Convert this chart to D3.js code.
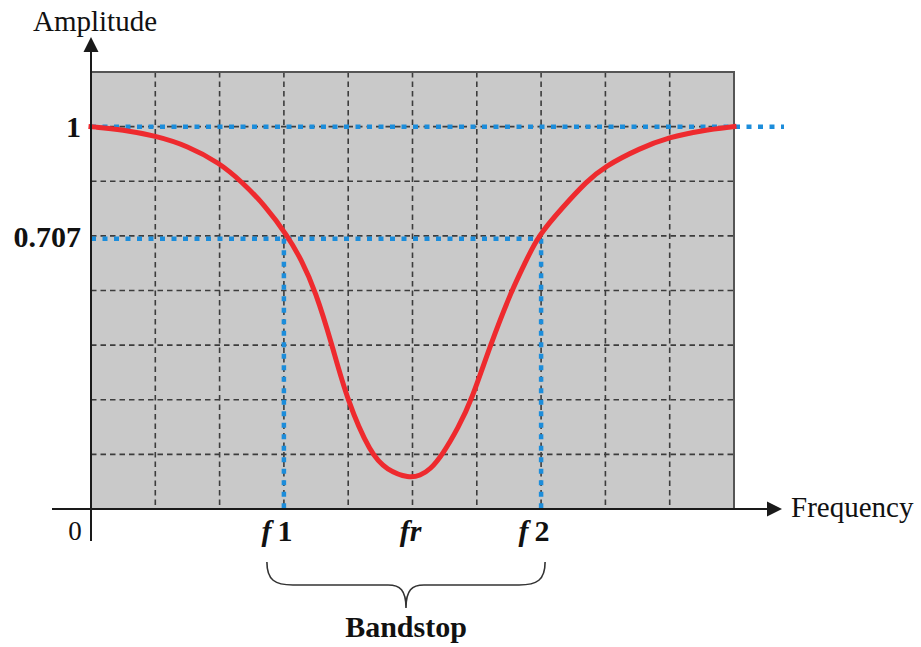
<!DOCTYPE html>
<html>
<head>
<meta charset="utf-8">
<script src="https://cdn.jsdelivr.net/npm/d3@7"></script>
<style>
  html, body { margin: 0; padding: 0; background: #fff; }
  svg { display: block; }
  text { font-family: "Liberation Serif", "Times New Roman", serif; fill: #111; }
</style>
</head>
<body>
<svg id="chart" width="921" height="647"></svg>
<script>
// Band-stop filter response, frequency in grid units (0..10)
const freq      = [0, 0.5, 1, 1.5, 2, 2.35, 2.7, 3.06, 3.27, 3.49, 3.75, 3.98, 4.35, 4.6, 4.95,
                   5.12, 5.27, 5.47, 5.71, 5.92, 6.21, 6.54, 6.75, 6.95, 7.34, 7.71, 7.98, 8.54, 8.99, 9.5, 10];
const amplitude = [1.0, 0.992, 0.976, 0.95, 0.905, 0.855, 0.795, 0.714, 0.652, 0.571, 0.429, 0.286, 0.143, 0.102, 0.08,
                   0.088, 0.102, 0.143, 0.212, 0.285, 0.429, 0.571, 0.643, 0.714, 0.79, 0.857, 0.895, 0.944, 0.972, 0.99, 1.0];

// Marked frequencies and their labels
const markFreqs  = [3, 5, 7];
const markLabels = [["f", "1"], ["fr", ""], ["f", "2"]];
const cutoffFreqs = [3, 7];
const cutoffLevel = 0.707;
const yTickValues = [1, 0.707];
const yTickLabels = ["1", "0.707"];
const xColumns = 10;
const yRows = 7; // grid rows up to amplitude 1

const svg = d3.select("#chart");

const x = d3.scaleLinear().domain([0, xColumns]).range([91, 734]);
const y = d3.scaleLinear().domain([0, (yRows + 1) / yRows]).range([509, 72]);

const blue = "#1c8ddb";
const red = "#ee2a2e";

// plot background
svg.append("rect")
  .attr("x", x(0)).attr("y", y.range()[1])
  .attr("width", x(xColumns) - x(0)).attr("height", y.range()[0] - y.range()[1])
  .attr("fill", "#c9c9c9");

// dashed grid
const grid = svg.append("g").attr("stroke", "#3c3c3c").attr("stroke-width", 1.6)
  .attr("stroke-dasharray", "5.5 4").attr("fill", "none");
grid.selectAll("line.v").data(d3.range(1, xColumns)).join("line")
  .attr("class", "v")
  .attr("x1", d => x(d)).attr("x2", d => x(d))
  .attr("y1", y.range()[1]).attr("y2", y.range()[0]);
grid.selectAll("line.h").data(d3.range(1, yRows + 1).map(k => k / yRows)).join("line")
  .attr("class", "h")
  .attr("x1", x(0)).attr("x2", x(xColumns))
  .attr("y1", d => y(d)).attr("y2", d => y(d));

// frame (top and right)
svg.append("path")
  .attr("d", `M${x(0)},${y.range()[1]} H${x(xColumns)} V${y.range()[0]}`)
  .attr("fill", "none").attr("stroke", "#555").attr("stroke-width", 2);

// blue reference lines
const ref = svg.append("g").attr("stroke", blue).attr("stroke-width", 4.5)
  .attr("stroke-dasharray", "5 6.5").attr("fill", "none");
ref.append("line")
  .attr("x1", x(0)).attr("x2", x(xColumns) + 50)
  .attr("y1", y(1)).attr("y2", y(1));
ref.append("line")
  .attr("x1", x(0)).attr("x2", x(cutoffFreqs[1]))
  .attr("y1", y(cutoffLevel)).attr("y2", y(cutoffLevel));
ref.selectAll("line.cut").data(cutoffFreqs).join("line")
  .attr("class", "cut")
  .attr("x1", d => x(d)).attr("x2", d => x(d))
  .attr("y1", y(cutoffLevel)).attr("y2", y(0));

// response curve
const pts = freq.map((f, i) => [f, amplitude[i]]);
svg.append("path")
  .datum(pts)
  .attr("d", d3.line().x(d => x(d[0])).y(d => y(d[1])).curve(d3.curveBasis))
  .attr("fill", "none").attr("stroke", red).attr("stroke-width", 5)
  .attr("stroke-linecap", "square").attr("stroke-linejoin", "round");

// axes with arrowheads
const axisColor = "#1a1a1a";
svg.append("line")
  .attr("x1", 52).attr("x2", 768).attr("y1", y(0)).attr("y2", y(0))
  .attr("stroke", axisColor).attr("stroke-width", 2);
svg.append("path")
  .attr("d", `M782,${y(0)} L767,${y(0) - 7.5} L767,${y(0) + 7.5} Z`)
  .attr("fill", axisColor);
svg.append("line")
  .attr("x1", x(0)).attr("x2", x(0)).attr("y1", 541).attr("y2", 51)
  .attr("stroke", axisColor).attr("stroke-width", 2);
svg.append("path")
  .attr("d", `M${x(0)},37 L${x(0) - 7.5},52 L${x(0) + 7.5},52 Z`)
  .attr("fill", axisColor);

// axis titles
svg.append("text").attr("x", 33).attr("y", 31)
  .attr("font-size", 29).text("Amplitude");
svg.append("text").attr("x", 791).attr("y", 517)
  .attr("font-size", 29).text("Frequency");

// y tick labels
svg.selectAll("text.ytick").data(yTickValues).join("text")
  .attr("class", "ytick")
  .attr("x", 81).attr("y", (d, i) => y(d) + (i === 0 ? 10 : 8))
  .attr("text-anchor", "end")
  .attr("font-size", 30).attr("font-weight", "bold")
  .text((d, i) => yTickLabels[i]);

// origin label
svg.append("text").attr("x", 75).attr("y", 540)
  .attr("text-anchor", "middle").attr("font-size", 27)
  .text("0");

// frequency marks
const marks = svg.selectAll("text.xtick").data(markFreqs).join("text")
  .attr("class", "xtick")
  .attr("x", (d, i) => x(d) + (markLabels[i][1] ? -7 : -2))
  .attr("y", 541)
  .attr("text-anchor", "middle")
  .attr("font-size", 30).attr("font-weight", "bold");
marks.append("tspan").attr("font-style", "italic").text((d, i) => markLabels[i][0]);
marks.append("tspan").attr("dx", (d, i) => markLabels[i][1] ? 6 : 0).text((d, i) => markLabels[i][1]);

// brace under the stop band
const bl = x(cutoffFreqs[0]) - 17, br = x(cutoffFreqs[1]) + 4, bm = (bl + br) / 2;
const braceTop = 562, braceMid = 585, braceTip = 608;
svg.append("path")
  .attr("d", `M${bl},${braceTop} C${bl},${braceMid - 5} ${bl + 8},${braceMid} ${bl + 26},${braceMid}
              L${bm - 18},${braceMid} C${bm - 6},${braceMid} ${bm},${braceMid + 5} ${bm},${braceTip}
              C${bm},${braceMid + 5} ${bm + 6},${braceMid} ${bm + 18},${braceMid}
              L${br - 26},${braceMid} C${br - 8},${braceMid} ${br},${braceMid - 5} ${br},${braceTop}`)
  .attr("fill", "none").attr("stroke", "#333").attr("stroke-width", 1.6);

svg.append("text").attr("x", bm).attr("y", 637)
  .attr("text-anchor", "middle").attr("font-size", 30).attr("font-weight", "bold")
  .text("Bandstop");
</script>
</body>
</html>
